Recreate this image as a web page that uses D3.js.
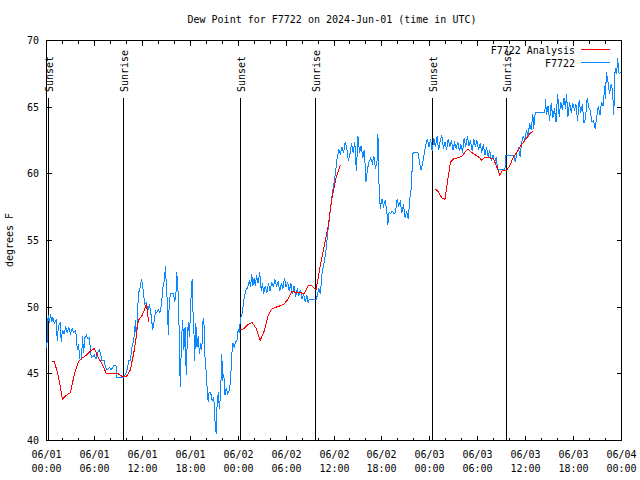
<!DOCTYPE html>
<html><head><meta charset="utf-8">
<script src="https://cdn.jsdelivr.net/npm/d3@7"></script>
<style>
body{margin:0;background:#fff;}
text{font-family:"DejaVu Sans Mono","Liberation Mono",monospace;font-size:10px;fill:#000;}
</style></head><body>
<svg id="c" width="640" height="480"></svg>
<script>
// ---- data (hours since 2024-06-01 00:00 UTC, dew point in °F) ----
const stationObs = [
[0.0,46.9],[0.1,47.6],[0.2,49.4],[0.35,48.8],[0.5,49.5],[0.65,48.9],[0.8,49.2],[1.0,48.8],[1.2,49.0],[1.35,47.5],
[1.5,48.6],[1.7,48.8],[1.85,47.4],[2.0,48.3],[2.2,48.0],[2.4,48.5],[2.6,48.1],[2.8,48.5],[3.0,48.0],[3.2,48.4],
[3.4,48.1],[3.6,48.2],[3.75,47.9],[3.85,46.8],[4.0,47.2],[4.2,46.1],[4.4,46.1],[4.5,47.8],[4.65,46.6],[4.8,47.7],
[5.0,47.9],[5.2,47.6],[5.35,47.7],[5.5,46.9],[5.6,46.2],[5.8,46.3],[6.0,46.4],[6.2,46.1],[6.4,46.6],[6.6,46.8],
[6.8,46.5],[6.9,46.0],[7.2,46.0],[7.4,45.5],[7.6,45.3],[7.9,45.5],[8.1,45.3],[8.4,45.6],[8.7,45.6],[8.8,44.7],
[9.6,44.7],[9.9,45.0],[10.1,45.3],[10.3,46.0],[10.5,46.0],[10.7,47.0],[10.9,47.5],[11.0,48.0],[11.15,49.0],[11.25,47.6],
[11.4,49.2],[11.5,51.0],[11.7,51.4],[11.9,52.1],[12.0,51.8],[12.15,51.0],[12.3,50.2],[12.5,50.3],[12.7,49.8],[12.9,50.2],
[13.1,49.4],[13.3,48.3],[13.5,49.0],[13.65,49.7],[13.8,49.6],[14.0,49.8],[14.2,49.6],[14.4,50.2],[14.6,51.6],[14.75,52.0],
[14.9,53.1],[15.0,51.6],[15.15,50.2],[15.25,47.9],[15.35,50.0],[15.5,51.0],[15.9,51.0],[16.05,50.4],[16.2,50.8],[16.3,52.6],
[16.4,52.0],[16.55,50.3],[16.65,46.5],[16.75,44.0],[16.9,47.5],[17.05,49.0],[17.2,46.8],[17.35,48.5],[17.5,44.9],[17.6,47.0],
[17.75,48.9],[17.9,47.8],[18.05,50.0],[18.15,51.5],[18.25,52.1],[18.35,49.6],[18.45,48.5],[18.55,46.0],[18.7,48.8],[18.85,47.0],
[19.0,47.8],[19.15,46.5],[19.3,47.3],[19.45,46.8],[19.55,48.8],[19.7,49.2],[19.8,47.0],[19.9,45.5],[20.0,45.2],[20.15,43.5],
[20.25,42.9],[20.35,43.6],[20.55,43.6],[20.75,43.0],[20.95,43.2],[21.05,42.0],[21.15,41.0],[21.25,40.5],[21.35,42.5],[21.5,43.6],
[21.65,42.4],[21.8,43.5],[21.95,46.5],[22.05,44.5],[22.2,45.0],[22.35,43.4],[22.5,43.9],[22.7,43.5],[22.9,43.8],[23.05,44.5],
[23.2,46.5],[23.35,47.3],[23.5,47.0],[23.7,47.4],[23.85,47.5],[24.0,48.3],[24.15,48.1],[24.3,49.2],[24.5,49.5],[24.7,50.5],
[24.85,51.0],[25.0,51.3],[25.2,51.5],[25.4,52.0],[25.55,51.5],[25.7,52.5],[25.85,51.6],[26.0,52.2],[26.15,51.6],[26.3,52.4],
[26.5,51.8],[26.7,52.6],[26.9,51.2],[27.05,51.8],[27.2,51.0],[27.4,51.6],[27.6,51.1],[27.8,51.8],[28.0,51.2],[28.2,51.9],
[28.4,51.5],[28.6,52.1],[28.8,51.6],[29.0,51.9],[29.2,51.2],[29.4,51.8],[29.6,51.4],[29.8,52.2],[30.0,51.5],[30.2,51.9],
[30.4,51.2],[30.6,51.8],[30.8,51.0],[31.0,51.6],[31.2,50.8],[31.4,51.4],[31.6,50.9],[31.8,51.3],[32.0,50.6],[32.2,51.0],
[32.4,50.4],[32.6,50.9],[32.75,50.35],[32.9,50.6],[33.8,50.6],[34.1,51.4],[34.3,51.0],[34.5,52.5],[34.8,53.5],[35.0,54.3],
[35.2,55.5],[35.4,56.5],[35.6,57.6],[35.8,58.6],[36.0,59.3],[36.2,60.2],[36.4,61.2],[36.6,61.8],[36.8,61.5],[37.0,62.0],
[37.2,61.6],[37.4,62.4],[37.6,61.9],[37.8,61.0],[38.0,61.5],[38.2,62.3],[38.4,61.6],[38.6,62.4],[38.8,60.2],[39.0,62.8],
[39.2,61.6],[39.4,62.1],[39.6,61.2],[39.8,61.8],[40.0,59.4],[40.2,60.4],[40.4,60.9],[40.6,61.2],[40.8,60.8],[41.0,61.3],
[41.2,60.4],[41.4,61.0],[41.5,63.0],[41.65,58.9],[41.8,57.4],[42.0,58.1],[42.2,57.6],[42.4,58.0],[42.6,57.3],[42.75,56.2],
[42.9,57.1],[43.1,57.0],[43.3,57.2],[43.5,57.0],[43.7,57.1],[43.9,58.1],[44.1,57.6],[44.3,57.9],[44.5,57.1],[44.7,57.7],
[44.9,56.7],[45.1,57.2],[45.3,56.6],[45.5,58.2],[45.7,59.0],[45.85,61.5],[46.0,61.6],[46.5,61.6],[46.7,60.9],[46.9,60.3],
[47.1,60.8],[47.3,61.5],[47.5,62.2],[47.7,62.6],[47.9,62.0],[48.1,62.6],[48.3,61.7],[48.5,62.7],[48.7,62.0],[48.9,62.8],
[49.1,61.8],[49.3,62.5],[49.5,62.9],[49.7,61.9],[49.9,62.4],[50.1,61.8],[50.3,62.6],[50.5,62.0],[50.7,62.5],[50.9,61.8],
[51.1,62.3],[51.3,61.9],[51.5,62.4],[51.7,61.7],[51.9,62.2],[52.1,61.6],[52.3,62.7],[52.5,62.0],[52.7,62.8],[52.9,62.1],
[53.1,62.5],[53.3,61.7],[53.5,62.6],[53.7,62.0],[53.9,62.5],[54.1,61.8],[54.3,62.3],[54.5,61.6],[54.7,62.2],[54.9,61.4],
[55.1,62.0],[55.3,61.3],[55.5,61.8],[55.7,61.0],[55.9,61.4],[56.1,60.9],[56.3,61.2],[56.5,60.4],[56.7,60.3],[57.4,60.3],
[57.5,61.4],[58.5,61.4],[58.7,60.9],[58.9,61.6],[59.1,61.9],[59.3,61.3],[59.5,62.4],[59.7,62.8],[59.9,62.5],[60.1,63.3],
[60.3,62.8],[60.5,63.8],[60.7,63.3],[60.9,64.5],[61.0,63.4],[61.2,64.6],[62.4,64.6],[62.5,65.6],[62.6,64.4],[62.8,65.1],
[63.0,64.0],[63.2,65.3],[63.4,64.2],[63.6,64.9],[63.8,63.9],[64.0,66.0],[64.2,64.3],[64.4,65.4],[64.6,64.8],[64.8,65.7],
[65.0,64.9],[65.1,66.0],[65.3,64.3],[65.5,65.4],[65.7,64.6],[65.9,65.3],[66.1,64.8],[66.3,65.2],[66.5,64.0],[66.7,65.5],
[66.9,64.6],[67.1,65.2],[67.3,63.8],[67.5,64.2],[67.7,65.7],[67.9,65.0],[68.1,64.7],[68.3,63.9],[68.5,64.0],[68.7,63.4],
[68.9,64.3],[69.1,65.1],[69.3,64.4],[69.5,65.4],[69.7,65.1],[69.9,66.6],[70.0,65.6],[70.1,67.6],[70.3,66.9],[70.5,66.0],
[70.7,66.7],[70.9,66.2],[71.0,64.4],[71.1,65.5],[71.2,67.9],[71.4,67.5],[71.5,68.7],[71.7,67.5],[71.9,67.6]
];
const analysis = [
[0.66,45.9],[1.0,45.9],[1.5,44.8],[2.0,43.1],[2.5,43.4],[3.0,43.6],[3.5,45.0],[4.0,45.9],[4.5,46.2],[5.0,46.4],
[5.5,46.7],[6.0,46.9],[6.5,46.2],[7.0,45.7],[7.5,45.0],[8.0,45.0],[8.5,45.0],[9.0,45.0],[9.5,44.8],[10.0,44.8],
[10.5,45.3],[11.0,46.8],[11.5,49.0],[12.0,49.4],[12.5,50.2],[12.8,48.9],[12.9,null],
[24.3,48.3],[24.75,48.4],[25.25,48.7],[25.75,48.85],[26.25,48.4],[26.75,47.5],[27.25,48.2],[27.75,49.4],[28.25,49.9],[28.75,50.0],
[29.25,50.1],[29.75,50.25],[30.25,50.6],[30.75,51.2],[31.25,51.1],[31.75,51.1],[32.25,51.0],[32.75,51.6],[33.25,51.6],[33.75,51.3],
[34.25,53.0],[34.75,54.5],[35.25,56.0],[35.75,58.2],[36.25,59.7],[36.75,60.6],[36.9,60.7],[37.0,null],
[48.6,58.9],[49.0,58.7],[49.5,58.2],[49.9,58.1],[50.25,59.6],[50.6,60.9],[51.0,61.15],[51.5,61.2],[52.0,61.3],[52.5,61.7],
[52.75,61.85],[53.25,61.6],[53.75,61.4],[54.25,61.2],[54.5,61.0],[54.9,61.25],[55.5,61.2],[56.0,61.1],[56.4,60.5],[56.75,59.9],
[57.1,60.25],[57.6,60.25],[58.0,60.6],[58.5,61.3],[59.0,61.7],[59.5,62.2],[60.0,62.6],[60.5,63.0],[60.9,63.2]
];
const sunEvents = [["Sunset",0.3],["Sunrise",9.6],["Sunset",24.3],["Sunrise",33.65],["Sunset",48.3],["Sunrise",57.6]];
const yTicks = [40,45,50,55,60,65,70];
const seriesNames = ["F7722 Analysis","F7722"];
const seriesColors = ["#ff0000","#0a88ff"];
const titleText = "Dew Point for F7722 on 2024-Jun-01 (time in UTC)";
const yLabel = "degrees F";

// ---- chart ----
const svg = d3.select("#c");
const t0 = Date.UTC(2024,5,1);
const toDate = h => new Date(t0 + h*3600e3);
const x = d3.scaleUtc().domain([toDate(0), toDate(72)]).range([46.5, 621.5]);
const y = d3.scaleLinear().domain([40,70]).range([440.5, 40.5]);
const L=46.5, R=621.5, T=40.5, B=440.5;

svg.append("text").attr("x",332).attr("y",23).attr("text-anchor","middle").text(titleText);
svg.append("text").attr("transform","translate(13,240) rotate(-90)").attr("text-anchor","middle").text(yLabel);

const g = svg.append("g").attr("shape-rendering","crispEdges");
// x ticks
const hourTicks = d3.utcHour.every(2).range(toDate(0), toDate(72.01));
hourTicks.forEach(d=>{
  const major = d.getUTCHours()%6===0;
  const len = major?5:3;
  const xx = Math.round(x(d)-0.5)+0.5;
  g.append("line").attr("x1",xx).attr("x2",xx).attr("y1",B).attr("y2",B-len).attr("stroke","#000");
  g.append("line").attr("x1",xx).attr("x2",xx).attr("y1",T).attr("y2",T+len).attr("stroke","#000");
  if(major){
    svg.append("text").attr("x",xx).attr("y",458).attr("text-anchor","middle").text(d3.utcFormat("%m/%d")(d));
    svg.append("text").attr("x",xx).attr("y",472).attr("text-anchor","middle").text(d3.utcFormat("%H:%M")(d));
  }
});
yTicks.forEach(v=>{
  const yy = y(v);
  g.append("line").attr("x1",L).attr("x2",L+5).attr("y1",yy).attr("y2",yy).attr("stroke","#000");
  g.append("line").attr("x1",R).attr("x2",R-5).attr("y1",yy).attr("y2",yy).attr("stroke","#000");
  svg.append("text").attr("x",39).attr("y",yy+3.5).attr("text-anchor","end").text(v);
});

// sun events
sunEvents.forEach(([lab,h])=>{
  const xx = Math.round(x(toDate(h))-0.5)+0.5;
  g.append("line").attr("x1",xx).attr("x2",xx).attr("y1",98).attr("y2",B).attr("stroke","#000");
  svg.append("text").attr("transform",`translate(${xx+4.5},92) rotate(-90)`).attr("text-anchor","start").text(lab);
});

// series
const line = d3.line().defined(d=>d[1]!==null).x(d=>x(toDate(d[0]))).y(d=>y(d[1]));
svg.append("path").datum(stationObs).attr("d",line).attr("fill","none").attr("stroke",seriesColors[1]).attr("stroke-width",1).attr("shape-rendering","crispEdges");
svg.append("path").datum(analysis).attr("d",line).attr("fill","none").attr("stroke",seriesColors[0]).attr("stroke-width",1).attr("shape-rendering","crispEdges");

// frame
g.append("rect").attr("x",L).attr("y",T).attr("width",R-L).attr("height",B-T).attr("fill","none").attr("stroke","#000");

// legend
seriesNames.forEach((n,i)=>{
  const yy = 49.5 + i*13;
  svg.append("text").attr("x",575).attr("y",yy+4).attr("text-anchor","end").text(n);
  g.append("line").attr("x1",581).attr("x2",610).attr("y1",yy).attr("y2",yy).attr("stroke",seriesColors[i]);
});
</script>
</body></html>
